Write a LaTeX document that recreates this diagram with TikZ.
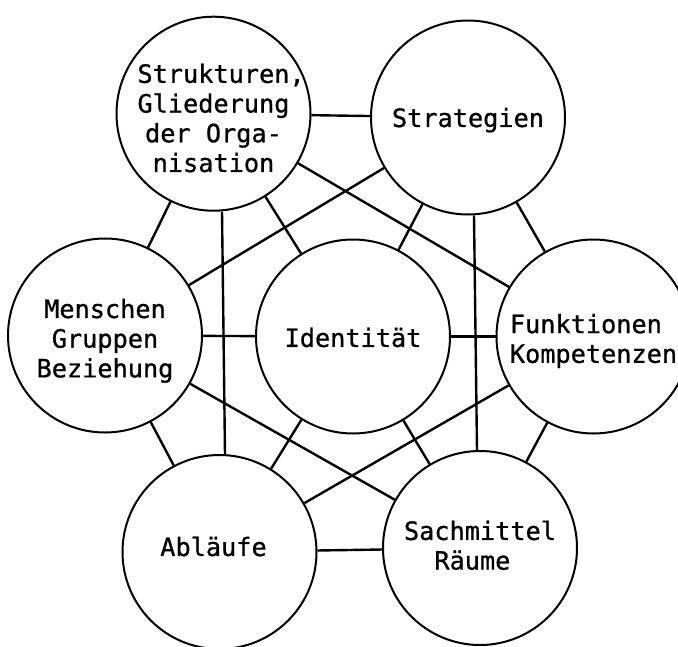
\documentclass[tikz,border=0pt]{standalone}
\usepackage{fontspec}
\newfontfamily\twfont[FakeBold=0.8]{DejaVu Sans Mono}
\begin{document}
\begin{tikzpicture}[x=1pt,y=-1pt,
  circ/.style={circle,draw,line width=2pt,minimum size=194pt,inner sep=0pt},
  lbl/.style={font=\twfont\fontsize{25.25}{29.7}\selectfont,align=center,inner sep=0pt},
  conn/.style={line width=2.4pt}]
\useasboundingbox (0,0) rectangle (678,646);
\clip (0,0) rectangle (678,646);
\fill[white] (0,0) rectangle (678,646);
\node[circ,label={[lbl,yshift=-4.3pt]center:{Strukturen\rlap{,}\\Gliederung\\der Orga-\\nisation}}] (S) at (213.5,113.7) {};
\node[circ,label={[lbl,yshift=-2.6pt]center:{Strategien}}] (St) at (468,117.5) {};
\node[circ,label={[lbl,yshift=-5.3pt]center:{Menschen\\Gruppen\\Beziehung}}] (M) at (105,335.5) {};
\node[circ,label={[lbl,yshift=-1pt]center:{Identität}}] (I) at (353,336.5) {};
\node[circ,label={[lbl,align=left,xshift=0pt,yshift=-4.5pt]center:{Funktionen\\Kompetenzen}}] (F) at (593.5,336.5) {};
\node[circ,label={[lbl,xshift=-6pt,yshift=5.5pt]center:{Abläufe}}] (A) at (219.5,552) {};
\node[circ,label={[lbl,align=left,yshift=2.7pt]center:{Sachmittel\\\hphantom{Sa}Räume}}] (Sa) at (480,548) {};
\draw[conn] (S) -- (St);
\draw[conn] (S) -- (M);
\draw[conn] (S) -- (I);
\draw[conn] ([xshift=8.5pt]S.south) -- ([xshift=5.5pt]A.north);
\draw[conn] (S) -- (F);
\draw[conn] (St) -- (M);
\draw[conn] (St) -- (I);
\draw[conn] (St) -- (F);
\draw[conn] ([xshift=6pt]St.south) -- ([xshift=-3pt]Sa.north);
\draw[conn] (M) -- (I);
\draw[conn] (M) -- (A);
\draw[conn] (M) -- (Sa);
\draw[conn] (I) -- (F);
\draw[conn] (I) -- (A);
\draw[conn] (I) -- (Sa);
\draw[conn] (F) -- (A);
\draw[conn] (F) -- (Sa);
\draw[conn] (A) -- (Sa);
\end{tikzpicture}
\end{document}
